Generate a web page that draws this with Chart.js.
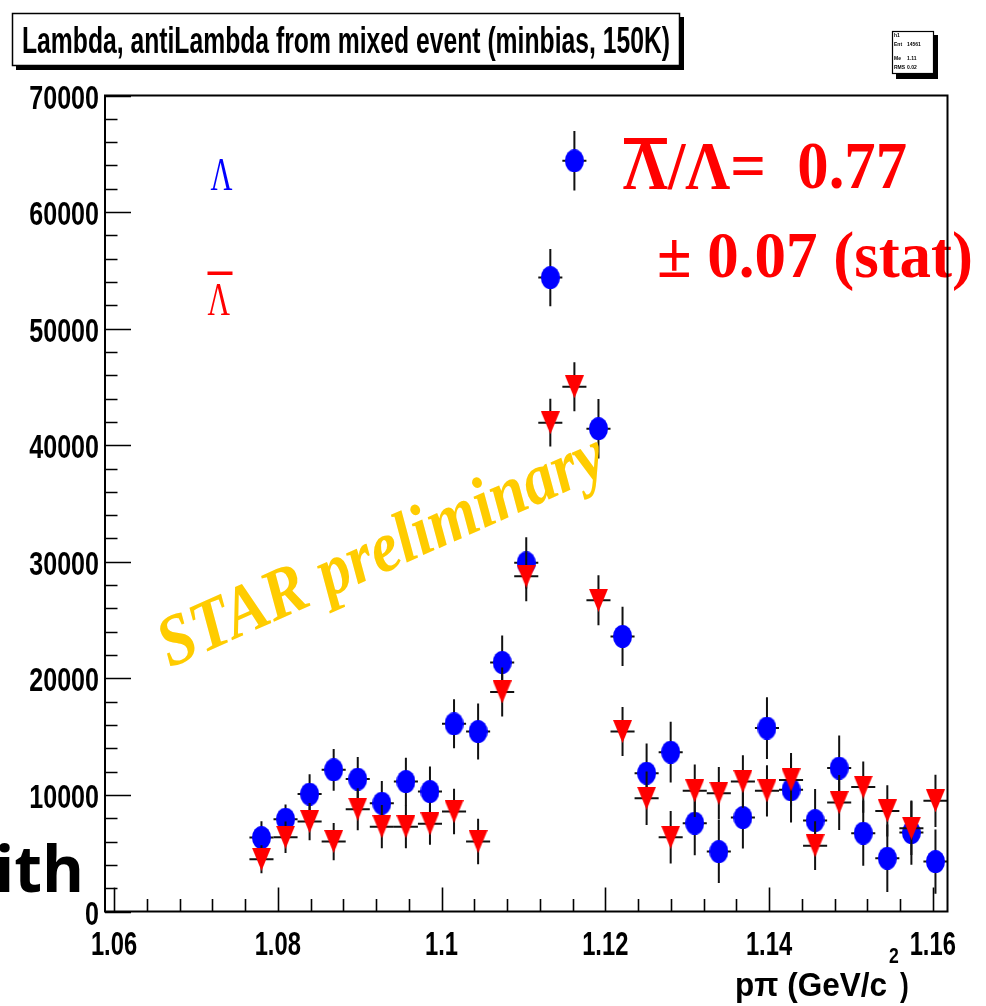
<!DOCTYPE html>
<html><head><meta charset="utf-8">
<style>html,body{margin:0;padding:0;background:#fff;overflow:hidden;} canvas{display:block;}</style>
<script src="https://cdn.jsdelivr.net/npm/chart.js@4.4.1/dist/chart.umd.min.js"></script>
</head><body>
<canvas id="c" width="986" height="1006"></canvas>
<script>
// ---- data ----
const binCenters = [1.07801,1.08095,1.08389,1.08683,1.08977,1.09271,1.09565,1.09859,1.10153,1.10447,1.10741,1.11035,1.11329,1.11623,1.11917,1.12211,1.12505,1.12799,1.13093,1.13387,1.13681,1.13975,1.14269,1.14563,1.14857,1.15151,1.15445,1.15739,1.16033];
const lambdaCounts = [6340,7920,10070,12150,11360,9290,11150,10290,16100,15440,21370,29910,54380,64400,41420,23600,11870,13670,7580,5140,8060,15740,10440,7800,12300,6720,4570,6770,4280];
const lambdaErrors = [1400,1250,1700,1800,1900,1900,2050,2150,2100,2400,2300,2200,2450,2550,2550,2550,2550,2600,2750,2700,2650,2650,2800,2700,2800,2800,2900,2750,2750];
const antiLambdaCounts = [4480,6370,7710,6000,8780,7280,7280,7520,8570,6000,18830,28760,41930,45020,26700,15440,9720,6370,10350,10150,11150,10350,11290,5650,9350,10670,8630,7150,9490];
const antiLambdaErrors = [1200,1350,1600,1600,1800,1850,1850,1800,1950,1950,2100,2150,2050,2100,2150,2100,2300,2250,2250,2250,2250,2200,2300,2100,2350,2200,2200,2300,2250];
const binHalfWidth = 0.00147;
const xMin = 1.0589, xMax = 1.1618;
const yMin = 0, yMax = 70000;
const xTickLabels = ['1.06','1.08','1.1','1.12','1.14','1.16'];
const yTickLabels = ['0','10000','20000','30000','40000','50000','60000','70000'];
const xMinorStep = 0.004, yMinorStep = 2000;
const titleText = 'Lambda, antiLambda from mixed event (minbias, 150K)';
const axisTitle = ['p\u03C0 (GeV/c', '2', ')'];
const ratioLine1 = '\u039B/\u039B=  0.77';
const ratioLine2 = '\u00B1 0.07 (stat)';
const prelimText = 'STAR preliminary';

// ---- helpers ----
function makeEllipse(w,h,color){const c=document.createElement('canvas');c.width=w;c.height=h;const g=c.getContext('2d');g.fillStyle=color;g.beginPath();g.ellipse(w/2,h/2,w/2,h/2,0,0,Math.PI*2);g.fill();return c;}
function makeDownTriangle(w,h,color){const c=document.createElement('canvas');c.width=w;c.height=h;const g=c.getContext('2d');g.fillStyle=color;g.beginPath();g.moveTo(0,0);g.lineTo(w,0);g.lineTo(w/2,h);g.closePath();g.fill();return c;}
function fitText(ctx,text,font,x,y,targetW,color){ctx.save();ctx.font=font;ctx.fillStyle=color;ctx.textAlign='left';ctx.textBaseline='alphabetic';const w=ctx.measureText(text).width;const s=targetW/w;ctx.translate(x,y);ctx.scale(s,1);ctx.fillText(text,0,0);ctx.restore();return s;}
function scaledText(ctx,text,font,x,y,sx,align,baseline,color){ctx.save();ctx.font=font;ctx.fillStyle=color||'#000';ctx.textAlign=align;ctx.textBaseline=baseline;ctx.translate(x,y);ctx.scale(sx,1);ctx.fillText(text,0,0);ctx.restore();}

const errorBarPlugin = {
  id:'errbars',
  beforeDatasetDraw(chart,args){
    const ds=chart.data.datasets[args.index];
    const xs=chart.scales.x, ys=chart.scales.y, ctx=chart.ctx;
    ctx.save();ctx.strokeStyle='#111';ctx.lineWidth=2;
    ds.data.forEach((p,i)=>{
      const e=ds.errors[i];
      const px=xs.getPixelForValue(p.x), py=ys.getPixelForValue(p.y);
      const x0=xs.getPixelForValue(p.x-binHalfWidth), x1=xs.getPixelForValue(p.x+binHalfWidth);
      const y0=ys.getPixelForValue(p.y-e), y1=ys.getPixelForValue(p.y+e);
      ctx.beginPath();ctx.moveTo(x0,py);ctx.lineTo(x1,py);ctx.moveTo(px,y0);ctx.lineTo(px,y1);ctx.stroke();
    });
    ctx.restore();
  }
};

const decorPlugin = {
  id:'decor',
  afterDatasetsDraw(chart){
    const ctx=chart.ctx, xs=chart.scales.x, ys=chart.scales.y, a=chart.chartArea;
    // STAR preliminary
    ctx.save();ctx.translate(170,668);ctx.rotate(-24*Math.PI/180);
    fitText(ctx,prelimText,'italic bold 72px "Liberation Serif"',0,0,482,'#FFCC00');
    ctx.restore();
    // ratio text
    const s1=fitText(ctx,ratioLine1,'bold 68px "Liberation Serif"',623,188,284,'#FF0000');
    ctx.save();ctx.font='bold 68px "Liberation Serif"';const lw=ctx.measureText('\u039B').width*s1;ctx.restore();
    ctx.fillStyle='#FF0000';ctx.fillRect(624,138,lw-2,6);
    fitText(ctx,ratioLine2,'bold 66px "Liberation Serif"',657,277,316,'#FF0000');
    // legend-like labels
    fitText(ctx,'\u039B','46px "Liberation Serif"',210.5,189.5,22,'#0000FF');
    fitText(ctx,'\u039B','46px "Liberation Serif"',207.5,315,22.5,'#FF0000');
    ctx.fillStyle='#FF0000';ctx.fillRect(207.5,271.5,25,3.5);
    // "with" fragment at left
    ctx.save();ctx.font='bold 64px "Open Sans"';ctx.fillStyle='#000';ctx.textAlign='right';ctx.textBaseline='alphabetic';ctx.fillText('with',84,892);ctx.restore();
    // title box
    ctx.fillStyle='#000';ctx.fillRect(16,17,668,53);
    ctx.fillStyle='#fff';ctx.fillRect(12,13,668,53);
    ctx.strokeStyle='#000';ctx.lineWidth=1.5;ctx.strokeRect(12.5,13.5,667,52);
    fitText(ctx,titleText,'bold 36px "Liberation Sans"',22,53,648,'#000');
    // small stats box
    ctx.fillStyle='#000';ctx.fillRect(896,35,42,44);
    ctx.fillStyle='#fff';ctx.fillRect(892,31,42,43);
    ctx.strokeStyle='#000';ctx.lineWidth=1.2;ctx.strokeRect(892.5,31.5,41,42);
    ctx.fillStyle='#000';ctx.font='bold 5px "Liberation Sans"';ctx.textAlign='left';ctx.textBaseline='middle';
    ctx.fillText('h1',894,36);ctx.fillText('Ent',894,45);ctx.fillText('14561',907,45);
    ctx.fillText('Me',894,59);ctx.fillText('1.11',907,59);ctx.fillText('RMS',894,68);ctx.fillText('0.02',907,68);
    // frame
    ctx.save();ctx.strokeStyle='#000';ctx.lineWidth=2;
    ctx.strokeRect(a.left,a.top,a.right-a.left,a.bottom-a.top);
    // ticks
    ctx.lineWidth=1.6;ctx.beginPath();
    for(let k=0;k<=25;k++){const v=1.06+k*xMinorStep;const px=Math.round(xs.getPixelForValue(v))+0.5;const len=(k%5===0)?24:12.5;ctx.moveTo(px,a.bottom);ctx.lineTo(px,a.bottom-len);}
    for(let k=0;k<=35;k++){const v=k*yMinorStep;const py=Math.round(ys.getPixelForValue(v))+0.5;const len=(k%5===0)?26:12.5;ctx.moveTo(a.left,py);ctx.lineTo(a.left+len,py);}
    ctx.stroke();ctx.restore();
    // tick labels
    const tf='bold 33px "Liberation Sans"';
    xTickLabels.forEach(t=>{const px=xs.getPixelForValue(parseFloat(t));scaledText(ctx,t,tf,px,955,0.72,'center','alphabetic');});
    yTickLabels.forEach(t=>{const py=ys.getPixelForValue(parseFloat(t));scaledText(ctx,t,tf,99,py+13,0.76,'right','alphabetic');});
    // axis title
    fitText(ctx,axisTitle[0],'bold 33px "Liberation Sans"',735,996,152,'#000');
    scaledText(ctx,axisTitle[1],'bold 22px "Liberation Sans"',889,963,0.8,'left','alphabetic');
    scaledText(ctx,axisTitle[2],'bold 33px "Liberation Sans"',900,996,0.8,'left','alphabetic');
  }
};

const lambdaPts = binCenters.map((x,i)=>({x, y:lambdaCounts[i]}));
const antiPts = binCenters.map((x,i)=>({x, y:antiLambdaCounts[i]}));

new Chart(document.getElementById('c'),{
  type:'scatter',
  data:{datasets:[
    {label:'Lambda',data:lambdaPts,errors:lambdaErrors,pointStyle:makeEllipse(19,23,'#0000FF'),pointRadius:10,order:2,showLine:false},
    {label:'antiLambda',data:antiPts,errors:antiLambdaErrors,pointStyle:makeDownTriangle(19,23,'#FF0000'),pointRadius:10,order:1,showLine:false}
  ]},
  options:{
    responsive:false,devicePixelRatio:1,animation:false,events:[],
    layout:{padding:{left:105,top:95.5,right:38.5,bottom:94.5}},
    plugins:{legend:{display:false},tooltip:{enabled:false},title:{display:false}},
    scales:{
      x:{type:'linear',min:xMin,max:xMax,display:false},
      y:{type:'linear',min:yMin,max:yMax,display:false}
    }
  },
  plugins:[errorBarPlugin,decorPlugin]
});
</script>
</body></html>
